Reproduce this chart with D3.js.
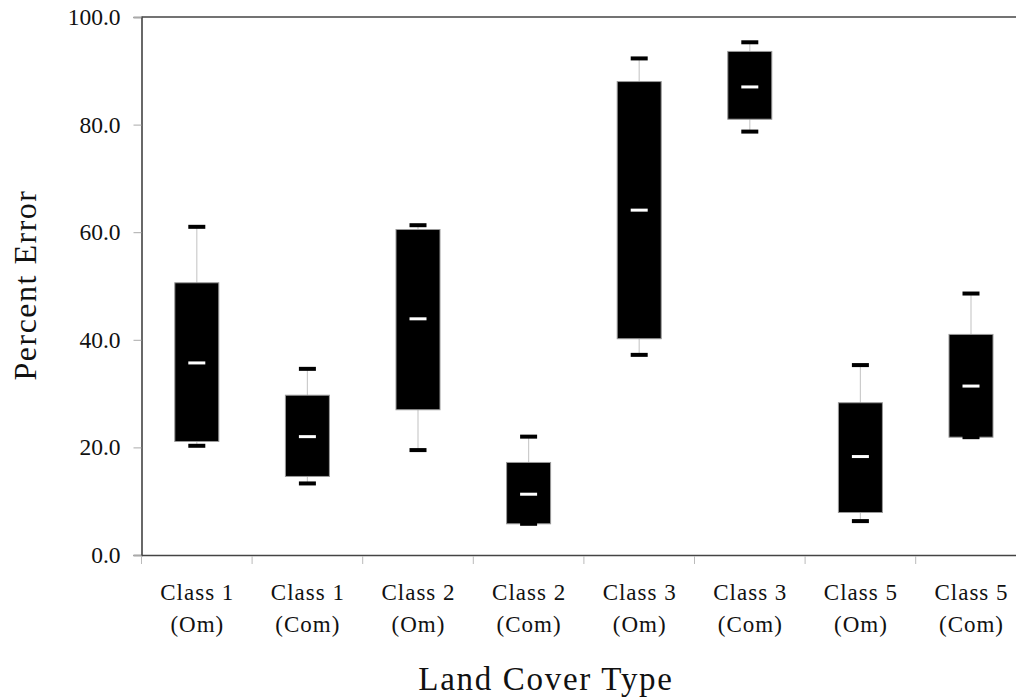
<!DOCTYPE html>
<html>
<head>
<meta charset="utf-8">
<script src="https://cdn.jsdelivr.net/npm/d3@7"></script>
<style>
  html, body { margin: 0; padding: 0; background: #fff; }
  svg { display: block; }
  text { font-family: "Liberation Serif", "DejaVu Serif", serif; fill: #111; }
</style>
</head>
<body>
<svg id="chart" width="1016" height="698"></svg>
<script>
// ---- data ----
const classNames = ["Class 1", "Class 1", "Class 2", "Class 2", "Class 3", "Class 3", "Class 5", "Class 5"];
const errorTypes = ["(Om)", "(Com)", "(Om)", "(Com)", "(Om)", "(Com)", "(Om)", "(Com)"];
const whiskerLow  = [20.3, 13.3, 19.5, 5.8, 37.2, 78.7, 6.3, 21.9];
const boxLow      = [21.1, 14.6, 27.0, 5.8, 40.2, 81.0, 7.9, 21.9];
const medians     = [35.7, 22.0, 43.9, 11.3, 64.1, 87.0, 18.3, 31.4];
const boxHigh     = [50.6, 29.7, 60.5, 17.2, 88.0, 93.6, 28.3, 41.0];
const whiskerHigh = [61.0, 34.6, 61.3, 22.0, 92.3, 95.3, 35.3, 48.6];
const yTicks = [0, 20, 40, 60, 80, 100];

(function () {
const data = classNames.map((c, i) => ({
  key: i, cls: c, type: errorTypes[i],
  wl: whiskerLow[i], q1: boxLow[i], med: medians[i], q3: boxHigh[i], wh: whiskerHigh[i]
}));

const svg = d3.select("#chart");
const mLeft = 141.5, mTop = 17, mBottom = 555, bandW = 110.6;

const x = d3.scaleBand().domain(data.map(d => d.key))
  .range([mLeft, mLeft + bandW * data.length]).paddingInner(0).paddingOuter(0);
const y = d3.scaleLinear().domain([0, 100]).range([mBottom, mTop]);

// top frame line
svg.append("line").attr("x1", mLeft).attr("x2", 1016).attr("y1", y(100)).attr("y2", y(100))
  .attr("stroke", "#444").attr("stroke-width", 1.6);

// y axis
const yAxis = svg.append("g").attr("transform", `translate(${mLeft},0)`)
  .call(d3.axisLeft(y).tickValues(yTicks).tickFormat(d3.format(".1f")).tickSize(8).tickPadding(13));
yAxis.select(".domain").attr("stroke", "#444").attr("stroke-width", 1.6);
yAxis.selectAll(".tick line").attr("stroke", "#aaa");
yAxis.selectAll(".tick text").style("font-size", "23.5px").attr("fill", "#111")
  .style("font-family", '"Liberation Serif", serif');

// x axis
const xAxis = svg.append("g").attr("transform", `translate(0,${mBottom})`)
  .call(d3.axisBottom(x).tickSize(0).tickFormat(""));
xAxis.select(".domain").attr("stroke", "#444").attr("stroke-width", 1.6);
xAxis.selectAll(".tick").remove();
// boundary ticks
const bounds = d3.range(data.length + 1).map(i => i === data.length ? x(data.length - 1) + x.bandwidth() : x(i));
svg.append("g").selectAll("line").data(bounds).join("line")
  .attr("x1", d => d).attr("x2", d => d).attr("y1", mBottom + 1).attr("y2", mBottom + 9)
  .attr("stroke", "#bbb").attr("stroke-width", 1);

// category labels
const lbl = svg.append("g").selectAll("text").data(data).join("text")
  .attr("x", d => x(d.key) + x.bandwidth() / 2)
  .attr("text-anchor", "middle")
  .style("font-size", "23px").style("letter-spacing", "1px");
lbl.append("tspan").attr("x", d => x(d.key) + x.bandwidth() / 2 + 0.5).attr("y", 600).text(d => d.cls);
lbl.append("tspan").attr("x", d => x(d.key) + x.bandwidth() / 2 + 0.5).attr("y", 632).text(d => d.type);

// boxes
const boxW = 44, capW = 17;
const g = svg.append("g").selectAll("g").data(data).join("g")
  .attr("transform", d => `translate(${x(d.key) + x.bandwidth() / 2},0)`);

g.append("line").attr("x1", 0).attr("x2", 0)
  .attr("y1", d => y(d.wh)).attr("y2", d => y(d.wl))
  .attr("stroke", "#ccc").attr("stroke-width", 1.2);

g.append("rect").attr("x", -boxW / 2).attr("width", boxW)
  .attr("y", d => y(d.q3)).attr("height", d => y(d.q1) - y(d.q3))
  .attr("fill", "#000").attr("stroke", "#999").attr("stroke-width", 1);

g.append("rect").attr("x", -capW / 2).attr("width", capW)
  .attr("y", d => y(d.wh) - 2).attr("height", 4).attr("fill", "#000");
g.append("rect").attr("x", -capW / 2).attr("width", capW)
  .attr("y", d => y(d.wl) - 2).attr("height", 4).attr("fill", "#000");

g.append("rect").attr("x", -capW / 2).attr("width", capW)
  .attr("y", d => y(d.med) - 1.5).attr("height", 3).attr("fill", "#fff");

// axis titles
svg.append("text").attr("transform", `translate(36,285) rotate(-90)`)
  .attr("text-anchor", "middle").style("font-size", "32px").style("letter-spacing", "1.5px")
  .text("Percent Error");
svg.append("text").attr("x", 546).attr("y", 690).attr("text-anchor", "middle")
  .style("font-size", "33px").style("letter-spacing", "1.7px").text("Land Cover Type");
})();
</script>
</body>
</html>
